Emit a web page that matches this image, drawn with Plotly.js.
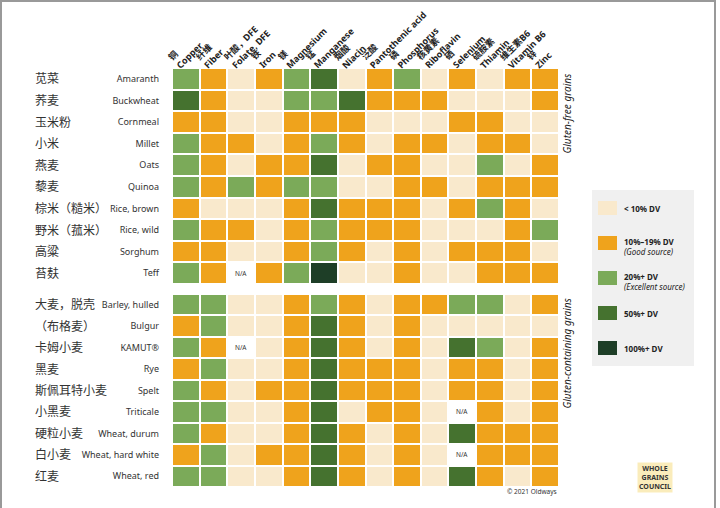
<!DOCTYPE html>
<html>
<head>
<meta charset="utf-8">
<script src="https://cdn.plot.ly/plotly-3.0.1.min.js"></script>
<style>html,body{margin:0;padding:0;background:#fff;}#chart{width:720px;height:508px;}</style>
</head>
<body>
<div id="chart"></div>
<script>
// ---- Data ----
const nutrientsEn = ["Copper","Fiber","Folate, DFE","Iron","Magnesium","Manganese","Niacin","Pantothenic acid","Phosphorus","Riboflavin","Selenium","Thiamin","Vitamin B6","Zinc"];
const nutrientsZh = ["铜","纤维","叶酸，DFE","铁","镁","锰","烟酸","泛酸","磷","核黄素","硒","硫胺素","维生素B6","锌"];

const gfGrainsEn = ["Amaranth","Buckwheat","Cornmeal","Millet","Oats","Quinoa","Rice, brown","Rice, wild","Sorghum","Teff"];
const gfGrainsZh = ["苋菜","荞麦","玉米粉","小米","燕麦","藜麦","棕米（糙米）","野米（菰米）","高粱","苔麸"];
// 0: <10% DV, 1: 10-19%, 2: 20%+, 3: 50%+, 4: 100%+, null: N/A
const gfLevels = [
  [2,1,0,1,2,3,0,1,2,0,1,0,1,1],
  [3,1,0,0,2,2,3,1,1,1,0,0,0,1],
  [1,1,0,0,1,1,1,0,0,0,1,1,0,0],
  [2,1,1,0,1,2,1,0,1,1,0,1,1,0],
  [2,1,0,1,1,3,0,1,1,0,0,2,0,1],
  [2,1,2,1,2,2,0,0,1,1,0,1,1,1],
  [1,0,0,0,1,3,1,1,1,0,1,2,1,0],
  [2,1,1,0,1,2,1,1,1,0,0,0,1,2],
  [1,1,0,0,1,2,1,0,1,0,1,1,1,0],
  [2,1,null,1,2,4,0,0,1,0,0,1,1,1]
];

const gcGrainsEn = ["Barley, hulled","Bulgur","KAMUT®","Rye","Spelt","Triticale","Wheat, durum","Wheat, hard white","Wheat, red"];
const gcGrainsZh = ["大麦，脱壳","（布格麦）","卡姆小麦","黑麦","斯佩耳特小麦","小黑麦","硬粒小麦","白小麦","红麦"];
const gcLevels = [
  [2,2,0,0,1,2,1,0,1,1,2,2,0,1],
  [1,2,0,0,1,3,1,0,1,0,0,0,0,0],
  [2,1,null,0,1,3,1,0,1,0,3,2,0,1],
  [1,2,0,0,1,3,1,1,1,0,1,1,0,1],
  [2,1,0,1,1,3,1,1,1,0,1,1,0,1],
  [2,2,0,0,1,3,0,1,1,0,null,1,0,1],
  [2,1,0,0,1,3,1,0,1,0,3,1,1,1],
  [1,2,0,1,1,3,1,0,1,0,null,1,1,1],
  [2,2,0,0,1,3,1,0,1,0,3,1,0,1]
];

const levelColors = ["#F9E9CC","#EFA31C","#7BAA59","#45722F","#1E3E27"];
const levelLabels = ["< 10% DV","10%–19% DV","20%+ DV","50%+ DV","100%+ DV"];
const levelNotes = ["","(Good source)","(Excellent source)","",""];

// ---- Layout helpers (pixel -> paper) ----
const L = 162, R = 559, T = 68, B = 487;
const px = x => (x - L) / (R - L);
const py = y => (B - y) / (B - T);

const cs = [];
levelColors.forEach((c, i) => { cs.push([i/5, c]); cs.push([(i+1)/5, c]); });

const FONT = '"Noto Sans", "Noto Sans CJK SC", sans-serif';

function hm(z, yNames, yax) {
  return {
    type: 'heatmap', z: z, x: nutrientsEn, y: yNames,
    xaxis: 'x', yaxis: yax,
    colorscale: cs, zmin: -0.5, zmax: 4.5, showscale: false,
    xgap: 2, ygap: 2, hoverongaps: false
  };
}

const traces = [hm(gfLevels, gfGrainsEn, 'y'), hm(gcLevels, gcGrainsEn, 'y2')];

const annotations = [];
// column labels
nutrientsEn.forEach((n, i) => {
  annotations.push({
    xref: 'x', yref: 'paper', x: i - 0.5, y: py(67),
    xanchor: 'left', yanchor: 'bottom', textangle: -45, align: 'left',
    text: '<b>' + nutrientsZh[i] + '<br>' + n + '</b>', showarrow: false,
    font: {family: FONT, size: 9, color: '#222'}, xshift: -10, yshift: -7
  });
});
// Chinese row labels
gfGrainsZh.forEach((t, i) => annotations.push({
  xref: 'paper', yref: 'y', x: px(33), y: gfGrainsEn[i], xanchor: 'left', yanchor: 'middle',
  text: t, showarrow: false, font: {family: FONT, size: 12, color: '#333'}
}));
gcGrainsZh.forEach((t, i) => annotations.push({
  xref: 'paper', yref: 'y2', x: px(33), y: gcGrainsEn[i], xanchor: 'left', yanchor: 'middle',
  text: t, showarrow: false, font: {family: FONT, size: 12, color: '#333'}
}));
// N/A labels
function addNA(levels, names, yref) {
  levels.forEach((row, r) => row.forEach((v, c) => {
    if (v === null) annotations.push({
      xref: 'x', yref: yref, x: nutrientsEn[c], y: names[r], text: 'N/A', showarrow: false,
      font: {family: FONT, size: 6.5, color: '#333'}
    });
  }));
}
addNA(gfLevels, gfGrainsEn, 'y');
addNA(gcLevels, gcGrainsEn, 'y2');
// group labels
annotations.push({xref: 'paper', yref: 'paper', x: px(566), y: py(71), xanchor: 'center', yanchor: 'top',
  textangle: -90, text: '<i>Gluten-free grains</i>', showarrow: false, font: {family: FONT, size: 10, color: '#222'}});
annotations.push({xref: 'paper', yref: 'paper', x: px(566), y: py(296), xanchor: 'center', yanchor: 'top',
  textangle: -90, text: '<i>Gluten-containing grains</i>', showarrow: false, font: {family: FONT, size: 10, color: '#222'}});
// copyright
annotations.push({xref: 'paper', yref: 'paper', x: px(559), y: py(492), xanchor: 'right', yanchor: 'middle',
  text: '© 2021 Oldways', showarrow: false, font: {family: FONT, size: 6.5, color: '#333'}});

// legend
const shapes = [];
shapes.push({type: 'rect', xref: 'paper', yref: 'paper', x0: px(592), x1: px(694), y0: py(190), y1: py(366),
  fillcolor: '#F0F0F0', line: {width: 0}, layer: 'below'});
const swY = [208, 243, 278, 313, 348];
levelColors.forEach((c, i) => {
  shapes.push({type: 'rect', xref: 'paper', yref: 'paper', x0: px(598), x1: px(617), y0: py(swY[i] - 7), y1: py(swY[i] + 7),
    fillcolor: c, line: {width: 0}});
  const txt = '<b>' + levelLabels[i] + '</b>' + (levelNotes[i] ? '<br><i>' + levelNotes[i] + '</i>' : '');
  annotations.push({xref: 'paper', yref: 'paper', x: px(622), y: py(levelNotes[i] ? swY[i] + 3 : swY[i]),
    xanchor: 'left', yanchor: 'middle', align: 'left', text: txt, showarrow: false,
    font: {family: FONT, size: 8, color: '#222'}});
});
// frame
shapes.push({type: 'rect', xref: 'paper', yref: 'paper', x0: px(1), x1: px(715), y0: py(1), y1: py(530),
  line: {color: '#999', width: 2}});

// logo text
annotations.push({xref: 'paper', yref: 'paper', x: px(655), y: py(477), xanchor: 'center', yanchor: 'middle',
  text: '<b>WHOLE<br>GRAINS<br>COUNCIL</b>', showarrow: false, font: {family: FONT, size: 7, color: '#333'}, bgcolor: 'rgba(240,200,60,0.35)'});

const layout = {
  width: 720, height: 508,
  margin: {l: L, r: 720 - R, t: T, b: 508 - B, pad: 0},
  paper_bgcolor: '#fff', plot_bgcolor: '#fff',
  showlegend: false,
  xaxis: {domain: [0, 1], showticklabels: false, showgrid: false, zeroline: false, ticks: '', fixedrange: true},
  yaxis: {domain: [py(284), 1], autorange: 'reversed', showgrid: false, zeroline: false, ticks: '',
    tickfont: {family: FONT, size: 9, color: '#333'}, ticklabelstandoff: 2},
  yaxis2: {domain: [0, py(294)], autorange: 'reversed', showgrid: false, zeroline: false, ticks: '',
    tickfont: {family: FONT, size: 9, color: '#333'}, ticklabelstandoff: 2, anchor: 'x'},
  annotations: annotations, shapes: shapes
};

Plotly.newPlot('chart', traces, layout, {displayModeBar: false, staticPlot: true});
</script>
</body>
</html>
